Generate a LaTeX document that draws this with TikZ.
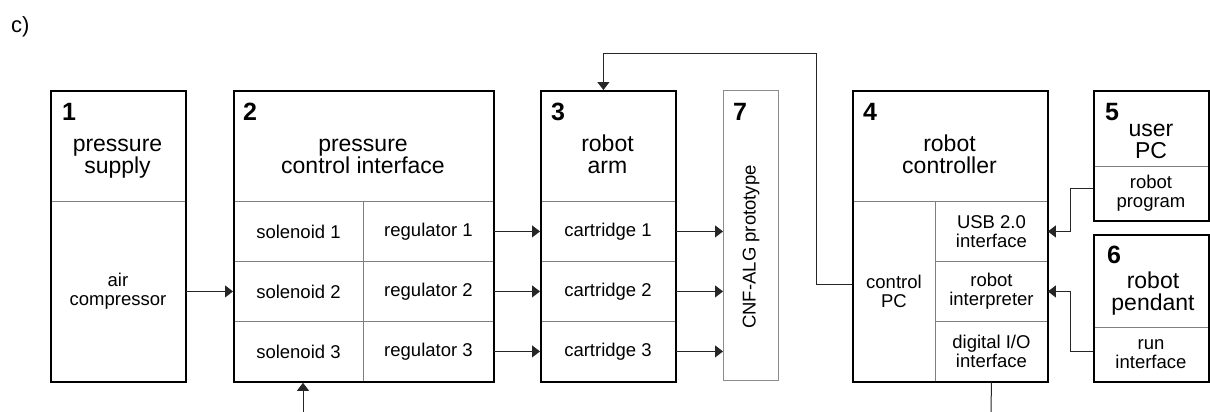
\documentclass[tikz,border=0pt]{standalone}
\usepackage{fontspec}
\setmainfont{Liberation Sans}
\usepackage{xcolor}
\usepackage{tikz}
\usetikzlibrary{arrows.meta,positioning}

\newcommand{\numfont}{\fontsize{25}{25}\selectfont\bfseries}
\newcommand{\titlefont}{\fontsize{23}{22}\selectfont}
\newcommand{\cellfont}{\fontsize{18.5}{19}\selectfont}

\begin{document}
\begin{tikzpicture}[x=1pt, y=-1pt,
    blk/.style={draw=black, line width=1.8pt, anchor=north west, inner sep=0pt},
    cell/.style={draw=black!50, line width=0.9pt, anchor=north west, inner sep=0pt, align=center, font=\cellfont},
    num/.style={anchor=base west, inner sep=0pt, font=\numfont},
    ttl/.style={anchor=base, inner sep=0pt, align=center, font=\titlefont},
    con/.style={draw=black!85, line width=1pt},
    arr/.style={con, -{Triangle[length=8pt, width=12pt]}}]
\useasboundingbox (0,0) rectangle (1210,412);

\node (lbl) [anchor=base west, inner sep=0pt, font=\fontsize{22}{22}\selectfont] at (11,33) {c)};

% 1 pressure supply
\node (comp) [cell, minimum width=135, minimum height=180] at (50,201) {air\\compressor};
\node (b1) [blk, minimum width=135, minimum height=291] at (50,90) {};
\node (n1) [num] at (62,120) {1};
\node (t1) [ttl] at (117.5,173) {pressure\\supply};

% 2 pressure control interface, 3 robot arm
\foreach \i/\y in {1/201,2/261,3/321} {
    \node (sol\i) [cell, minimum width=130, minimum height=60] at (233,\y) {solenoid \i};
    \node (reg\i) [cell, minimum width=130, minimum height=60] at (363,\y) {regulator \i};
    \node (cart\i) [cell, minimum width=135, minimum height=60] at (540,\y) {cartridge \i};
}
\node (b2) [blk, minimum width=260, minimum height=291] at (233,90) {};
\node (n2) [num] at (243,120) {2};
\node (t2) [ttl] at (363,173) {pressure\\control interface};

\node (b3) [blk, minimum width=135, minimum height=291] at (540,90) {};
\node (n3) [num] at (551,120) {3};
\node (t3) [ttl] at (607.5,173) {robot\\arm};

% 7 prototype
\node (b7) [blk, draw=black!45, line width=1.1pt, minimum width=55, minimum height=290] at (723,90) {};
\node (n7) [num] at (733,120) {7};
\node (t7) [rotate=90, inner sep=0pt, font=\cellfont] at (751,247) {CNF-ALG prototype};

% 4 robot controller
\node (ctrl) [cell, minimum width=83, minimum height=180] at (852,201) {control\\PC};
\node (usb) [cell, minimum width=112, minimum height=60] at (935,201) {USB 2.0\\interface};
\node (interp) [cell, minimum width=112, minimum height=60] at (935,261) {robot\\interpreter};
\node (dio) [cell, minimum width=112, minimum height=60] at (935,321) {digital I/O\\interface};
\node (b4) [blk, minimum width=195, minimum height=291] at (852,90) {};
\node (n4) [num] at (863,120) {4};
\node (t4) [ttl] at (949.5,173) {robot\\controller};

% 5 user PC, 6 robot pendant
\node (prog) [cell, minimum width=115, minimum height=54] at (1093,166) {robot\\program};
\node (b5) [blk, minimum width=115, minimum height=130] at (1093,90) {};
\node (n5) [num] at (1105,120) {5};
\node (t5) [ttl] at (1151,158) {user\\PC};

\node (run) [cell, minimum width=115, minimum height=54] at (1093,327) {run\\interface};
\node (b6) [blk, minimum width=115, minimum height=147] at (1093,234) {};
\node (n6) [num] at (1107,263) {6};
\node (t6) [ttl] at (1153,310) {robot\\pendant};

% connectors
\coordinate (air) at (303,412);
\coordinate (io) at (991,412);
\draw[arr] (comp) -- (sol2);
\foreach \i in {1,2,3} {
    \draw[arr] (reg\i) -- (cart\i);
    \draw[arr] (cart\i) -- (cart\i -| b7.west);
}
\draw[arr] ([yshift=7]ctrl.west) -- ++(-36,0) |- ([xshift=-5,yshift=36]b3.north) -- ([xshift=-5]b3.north);
\draw[arr] ([yshift=5]prog.west) -- ++(-23,0) |- (usb.east);
\draw[arr] ([yshift=3]run.west) -- ++(-23,0) |- (interp.east);
\draw[arr] (air) -- (air |- b2.south);
\draw[con] (dio.south) -- (io);
\end{tikzpicture}
\end{document}
